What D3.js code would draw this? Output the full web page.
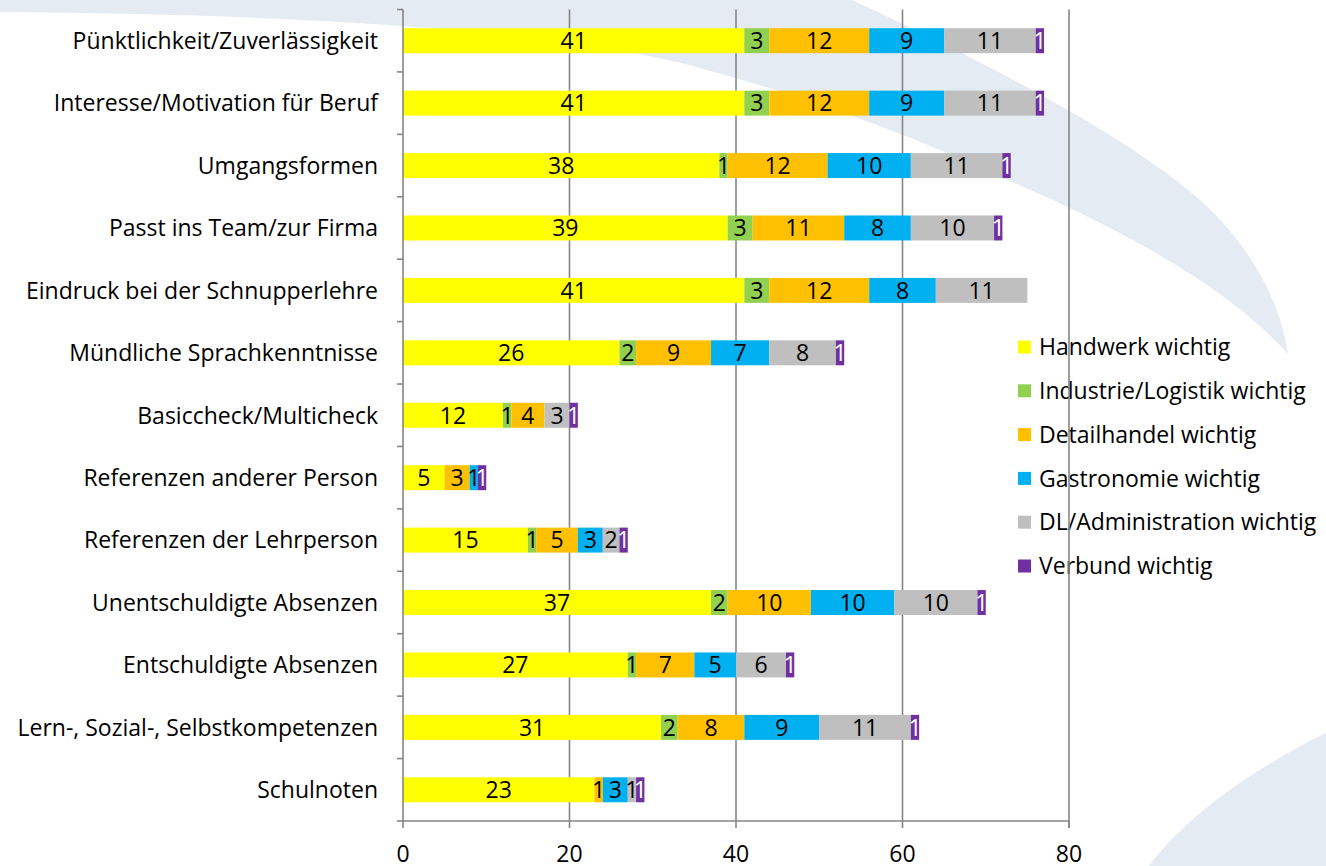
<!DOCTYPE html>
<html>
<head>
<meta charset="utf-8">
<script src="https://cdn.jsdelivr.net/npm/d3@7"></script>
<style>
  html, body { margin: 0; padding: 0; background: #ffffff; }
  svg { display: block; }
  text { font-family: "Open Sans", "Noto Sans", sans-serif; }
</style>
</head>
<body>
<svg id="chart" width="1326" height="866"></svg>
<script>
// ---------------- data ----------------
const categories = [
  "Pünktlichkeit/Zuverlässigkeit",
  "Interesse/Motivation für Beruf",
  "Umgangsformen",
  "Passt ins Team/zur Firma",
  "Eindruck bei der Schnupperlehre",
  "Mündliche Sprachkenntnisse",
  "Basiccheck/Multicheck",
  "Referenzen anderer Person",
  "Referenzen der Lehrperson",
  "Unentschuldigte Absenzen",
  "Entschuldigte Absenzen",
  "Lern-, Sozial-, Selbstkompetenzen",
  "Schulnoten"
];
const seriesNames = [
  "Handwerk wichtig",
  "Industrie/Logistik wichtig",
  "Detailhandel wichtig",
  "Gastronomie wichtig",
  "DL/Administration wichtig",
  "Verbund wichtig"
];
const handwerk       = [41, 41, 38, 39, 41, 26, 12, 5, 15, 37, 27, 31, 23];
const industrie      = [3, 3, 1, 3, 3, 2, 1, 0, 1, 2, 1, 2, 0];
const detailhandel   = [12, 12, 12, 11, 12, 9, 4, 3, 5, 10, 7, 8, 1];
const gastronomie    = [9, 9, 10, 8, 8, 7, 0, 1, 3, 10, 5, 9, 3];
const administration = [11, 11, 11, 10, 11, 8, 3, 0, 2, 10, 6, 11, 1];
const verbund        = [1, 1, 1, 1, 0, 1, 1, 1, 1, 1, 1, 1, 1];
const xTicks = [0, 20, 40, 60, 80];

const seriesValues = [handwerk, industrie, detailhandel, gastronomie, administration, verbund];
const colors = ["#FFFF00", "#92D050", "#FFC000", "#00B0F0", "#BFBFBF", "#7030A0"];
const labelColors = ["#000", "#000", "#000", "#000", "#000", "#fff"];

// ---------------- layout ----------------
const svg = d3.select("#chart");
const plot = { left: 403, right: 1069, top: 9.5, bottom: 821 };
const FS = 23;

// background swooshes
const bg = svg.append("g");
bg.append("path")
  .attr("d", "M0,0 L852,0 C960,50 1120,130 1200,200 C1250,245 1280,300 1288,354 C1240,300 1150,240 1000,177 C900,130 800,95 700,68 C560,30 300,14 0,12 Z")
  .attr("fill", "#e4ebf3");
bg.append("path")
  .attr("d", "M1326,733 C1270,760 1190,810 1149,866 L1326,866 Z")
  .attr("fill", "#e4ebf3");

const x = d3.scaleLinear().domain([0, 80]).range([plot.left, plot.right]);
const y = d3.scaleBand().domain(categories).range([plot.top, plot.bottom]).paddingInner(0.6).paddingOuter(0.3);

const gridColor = "#868686";

// vertical gridlines
svg.append("g").selectAll("line")
  .data(xTicks.filter(d => d > 0 && d < 80))
  .join("line")
  .attr("x1", d => x(d)).attr("x2", d => x(d))
  .attr("y1", plot.top).attr("y2", plot.bottom)
  .attr("stroke", gridColor).attr("stroke-width", 1.6);

// stacked data
const rows = categories.map((c, i) => {
  const o = { cat: c };
  seriesNames.forEach((s, j) => o[s] = seriesValues[j][i]);
  return o;
});
const stack = d3.stack().keys(seriesNames)(rows);

const barsG = svg.append("g");
stack.forEach((layer, j) => {
  const g = barsG.append("g").attr("fill", colors[j]);
  g.selectAll("rect")
    .data(layer.filter(d => d[1] - d[0] > 0))
    .join("rect")
    .attr("x", d => x(d[0]))
    .attr("width", d => x(d[1]) - x(d[0]))
    .attr("y", d => y(d.data.cat))
    .attr("height", y.bandwidth());
});

// value labels
stack.forEach((layer, j) => {
  svg.append("g").selectAll("text")
    .data(layer.filter(d => d[1] - d[0] > 0))
    .join("text")
    .attr("x", d => (x(d[0]) + x(d[1])) / 2)
    .attr("y", d => y(d.data.cat) + y.bandwidth() / 2)
    .attr("dy", "0.36em")
    .attr("text-anchor", "middle")
    .attr("font-size", FS)
    .attr("fill", labelColors[j])
    .text(d => d[1] - d[0]);
});

// axes lines
svg.append("line")
  .attr("x1", plot.left).attr("x2", plot.left)
  .attr("y1", plot.top).attr("y2", plot.bottom)
  .attr("stroke", gridColor).attr("stroke-width", 1.6);
svg.append("line")
  .attr("x1", plot.left).attr("x2", plot.right)
  .attr("y1", plot.bottom).attr("y2", plot.bottom)
  .attr("stroke", gridColor).attr("stroke-width", 1.6);

// left ticks at category boundaries
const boundaries = d3.range(categories.length + 1).map(i => plot.top + i * (plot.bottom - plot.top) / categories.length);
svg.append("g").selectAll("line")
  .data(boundaries)
  .join("line")
  .attr("x1", plot.left - 6).attr("x2", plot.left)
  .attr("y1", d => d).attr("y2", d => d)
  .attr("stroke", gridColor).attr("stroke-width", 1.6);

// bottom ticks
svg.append("g").selectAll("line")
  .data(xTicks)
  .join("line")
  .attr("x1", d => x(d)).attr("x2", d => x(d))
  .attr("y1", plot.bottom).attr("y2", plot.bottom + 7)
  .attr("stroke", gridColor).attr("stroke-width", 1.6);

// x tick labels
svg.append("g").selectAll("text")
  .data(xTicks)
  .join("text")
  .attr("x", d => x(d))
  .attr("y", 862)
  .attr("text-anchor", "middle")
  .attr("font-size", FS)
  .attr("fill", "#000")
  .text(d => d);

// category labels
svg.append("g").selectAll("text")
  .data(categories)
  .join("text")
  .attr("x", 378)
  .attr("y", d => y(d) + y.bandwidth() / 2)
  .attr("dy", "0.36em")
  .attr("text-anchor", "end")
  .attr("font-size", FS)
  .attr("fill", "#000")
  .text(d => d);

// legend
const legend = svg.append("g");
const legendY0 = 347, legendStep = 43.8;
seriesNames.forEach((s, j) => {
  const yy = legendY0 + j * legendStep;
  legend.append("rect")
    .attr("x", 1018).attr("y", yy - 6.5)
    .attr("width", 13).attr("height", 13)
    .attr("fill", colors[j]);
  legend.append("text")
    .attr("x", 1039).attr("y", yy)
    .attr("dy", "0.36em")
    .attr("font-size", FS)
    .attr("fill", "#000")
    .text(s);
});

// gridline at 80 drawn over legend as in reference
svg.append("line")
  .attr("x1", x(80)).attr("x2", x(80))
  .attr("y1", plot.top).attr("y2", plot.bottom + 7)
  .attr("stroke", gridColor).attr("stroke-width", 1.6);
</script>
</body>
</html>
